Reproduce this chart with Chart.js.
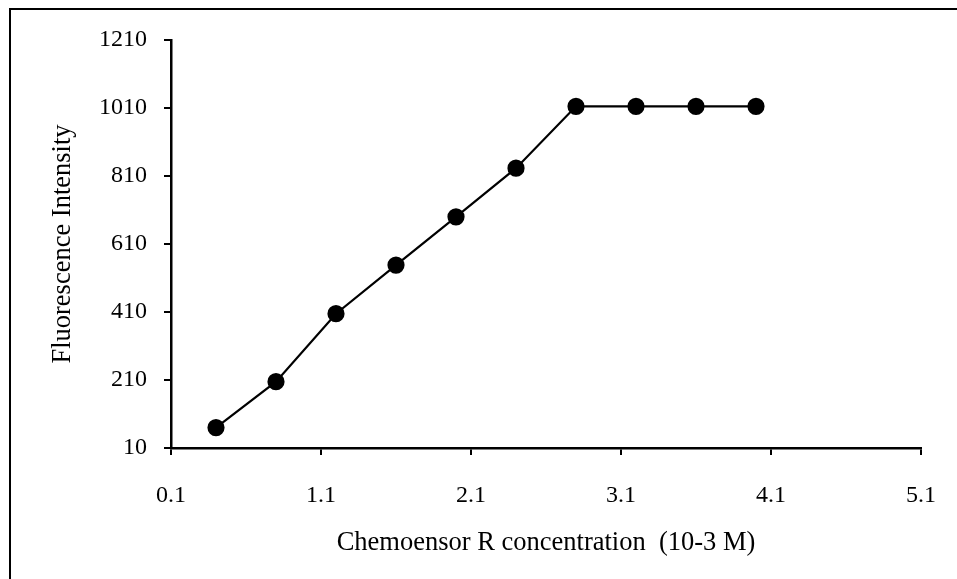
<!DOCTYPE html>
<html>
<head>
<meta charset="utf-8">
<script src="https://cdn.jsdelivr.net/npm/chart.js@4"></script>
<style>
  html, body { margin: 0; padding: 0; background: #fff; overflow: hidden; }
  #wrap { position: relative; width: 957px; height: 579px; }
  #frame { position: absolute; left: 9px; top: 8px; width: 1000px; height: 1000px; border: 2px solid #000; box-sizing: border-box; pointer-events: none; }
  canvas { position: absolute; left: 0; top: 0; }
</style>
</head>
<body>
<div id="wrap">
  <div id="frame"></div>
  <canvas id="c" width="957" height="579"></canvas>
</div>
<script>
const concentration = [0.4, 0.8, 1.2, 1.6, 2.0, 2.4, 2.8, 3.2, 3.6, 4.0];
const intensity = [70, 205, 405, 548, 690, 833, 1015, 1015, 1015, 1015];
const xTickValues = [0.1, 1.1, 2.1, 3.1, 4.1, 5.1];
const yTickValues = [10, 210, 410, 610, 810, 1010, 1210];
const xTitle = 'Chemoensor R concentration  (10-3 M)';
const yTitle = 'Fluorescence Intensity';

const family = '"Liberation Serif", "Times New Roman", serif';
const tickFont = { family: family, size: 24 };
const titleFont = { family: family, size: 26.5 };

new Chart(document.getElementById('c'), {
  type: 'scatter',
  data: {
    datasets: [{
      data: concentration.map((x, i) => ({ x: x, y: intensity[i] })),
      showLine: true,
      borderColor: '#000',
      borderWidth: 2.2,
      pointBackgroundColor: '#000',
      pointBorderColor: '#000',
      pointRadius: 7.5,
      pointHoverRadius: 7.5,
      tension: 0
    }]
  },
  options: {
    responsive: false,
    animation: false,
    devicePixelRatio: 1,
    layout: { padding: { left: 0, right: 36, top: 40, bottom: 0 } },
    plugins: { legend: { display: false }, tooltip: { enabled: false } },
    scales: {
      x: {
        type: 'linear',
        min: xTickValues[0],
        max: xTickValues[xTickValues.length - 1],
        afterBuildTicks: s => { s.ticks = xTickValues.map(v => ({ value: v })); },
        afterFit: s => { s.height = 131; s.paddingRight = 0; s.paddingLeft = 0; },
        border: { display: true, color: '#000', width: 2.5 },
        grid: { drawOnChartArea: false, drawTicks: true, tickLength: 7, color: '#000', lineWidth: 2 },
        ticks: { color: '#000', font: tickFont, padding: 26, maxRotation: 0, autoSkip: false,
                 callback: v => Number(v).toFixed(1) },
        title: { display: true, text: xTitle, color: '#000', font: titleFont, padding: { top: 0, bottom: 20 } }
      },
      y: {
        type: 'linear',
        min: yTickValues[0],
        max: yTickValues[yTickValues.length - 1],
        afterBuildTicks: s => { s.ticks = yTickValues.map(v => ({ value: v })); },
        afterFit: s => { s.width = 171; s.paddingTop = 0; s.paddingBottom = 0; },
        border: { display: true, color: '#000', width: 2.5 },
        grid: { drawOnChartArea: false, drawTicks: true, tickLength: 7, color: '#000', lineWidth: 2 },
        ticks: { color: '#000', font: tickFont, padding: 17, autoSkip: false,
                 callback: v => String(Math.round(v)) },
        title: { display: true, text: yTitle, color: '#000', font: titleFont, padding: { top: 47, bottom: 0 } }
      }
    }
  }
});
</script>
</body>
</html>
